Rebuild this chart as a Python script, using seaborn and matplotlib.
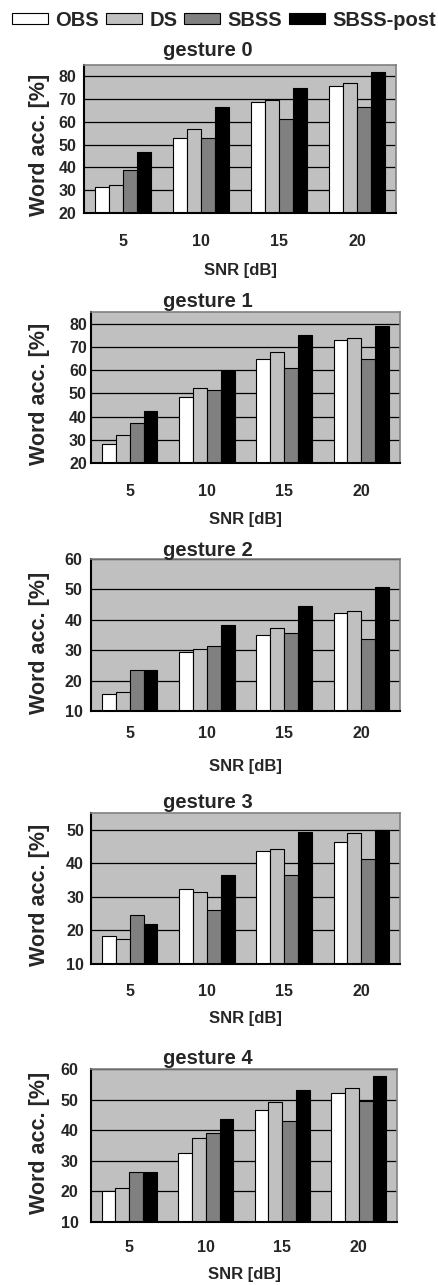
import numpy as np
import pandas as pd
import matplotlib
matplotlib.use("Agg")
import matplotlib.pyplot as plt
import seaborn as sns
from matplotlib.patches import Patch

# SNR categories and methods
snr = ["5", "10", "15", "20"]
methods = ["OBS", "DS", "SBSS", "SBSS-post"]

# word accuracy [%], per gesture
g0_obs = [31.3, 53.1, 68.7, 75.8]
g0_ds = [32.2, 57.1, 69.6, 77.1]
g0_sbss = [38.7, 53.1, 61.4, 66.5]
g0_post = [47.0, 66.7, 74.9, 82.1]

g1_obs = [28.2, 48.4, 64.7, 72.9]
g1_ds = [32.0, 52.5, 67.7, 73.8]
g1_sbss = [37.2, 51.4, 60.8, 64.7]
g1_post = [42.5, 59.7, 75.2, 79.0]

g2_obs = [15.5, 29.5, 34.9, 42.2]
g2_ds = [16.2, 30.4, 37.4, 42.9]
g2_sbss = [23.4, 31.3, 35.7, 33.6]
g2_post = [23.4, 38.3, 44.5, 50.8]

g3_obs = [18.2, 32.3, 43.6, 46.3]
g3_ds = [17.4, 31.6, 44.4, 49.1]
g3_sbss = [24.6, 26.0, 36.5, 41.4]
g3_post = [22.0, 36.6, 49.2, 50.0]

g4_obs = [20.1, 32.7, 46.7, 52.3]
g4_ds = [21.0, 37.5, 49.2, 53.8]
g4_sbss = [26.4, 39.0, 43.0, 49.5]
g4_post = [26.4, 43.7, 53.1, 57.7]

titles = ["gesture 0", "gesture 1", "gesture 2", "gesture 3", "gesture 4"]
series = [
    [g0_obs, g0_ds, g0_sbss, g0_post],
    [g1_obs, g1_ds, g1_sbss, g1_post],
    [g2_obs, g2_ds, g2_sbss, g2_post],
    [g3_obs, g3_ds, g3_sbss, g3_post],
    [g4_obs, g4_ds, g4_sbss, g4_post],
]
ylims = [(20, 85), (20, 85), (10, 60), (10, 55), (10, 60)]
ytop = [80, 80, 60, 50, 60]

palette = {"OBS": "white", "DS": "#c0c0c0", "SBSS": "#808080", "SBSS-post": "black"}

# layout in pixels: x0, x1, y0, y1, title y, xtick y, xlabel y, ytick pad, ylabel y frac
W, H = 438, 1285
boxes = [
    (84, 396, 65, 213, 51, 242, 270, 5.5, 0.46),
    (91, 400, 312, 463, 301, 491, 519, 3.0, 0.46),
    (91, 400, 559, 711, 550, 733, 766, 6.0, 0.45),
    (91, 400, 813, 964, 803, 992, 1019, 5.0, 0.46),
    (91, 397, 1069, 1222, 1058, 1247, 1275, 9.0, 0.52),
]

sns.set_style("white")
plt.rcParams["font.family"] = ["Liberation Sans", "DejaVu Sans"]
plt.rcParams["font.weight"] = "bold"

fig = plt.figure(figsize=(W / 100, H / 100), dpi=100)

for i in range(5):
    x0, x1, y0, y1, ty, xty, xly, ypad, ylf = boxes[i]
    ax = fig.add_axes([x0 / W, 1 - y1 / H, (x1 - x0) / W, (y1 - y0) / H])
    rows = []
    for m, vals in zip(methods, series[i]):
        for s, v in zip(snr, vals):
            rows.append({"snr": s, "method": m, "acc": v})
    df = pd.DataFrame(rows)
    ax.set_facecolor("#c0c0c0")
    ax.set_axisbelow(True)
    ax.yaxis.grid(True, color="black", linewidth=0.9)
    sns.barplot(data=df, x="snr", y="acc", hue="method", order=snr, hue_order=methods,
                palette=palette, width=0.72, gap=0, edgecolor="black", linewidth=0.8,
                errorbar=None, legend=False, ax=ax)
    ax.set_xlim(-0.5, 3.5)
    ax.set_ylim(*ylims[i])
    ax.set_yticks(np.arange(ylims[i][0], ytop[i] + 1, 10))
    ax.set_xticks([0.5, 1.5, 2.5], minor=True)
    h = y1 - y0
    w = x1 - x0
    ax.tick_params(axis="x", which="major", length=0, labelsize=11.5, pad=(xty - y1 - 7.5) * 0.72)
    ax.tick_params(axis="x", which="minor", direction="in", length=3.5, width=0.8, color="black")
    ax.tick_params(axis="y", length=0, labelsize=11.5, pad=ypad)
    for lab in ax.get_xticklabels() + ax.get_yticklabels():
        lab.set_fontweight("bold")
    ax.set_xlabel("SNR [dB]", fontsize=12, fontweight="bold", va="center")
    ax.xaxis.set_label_coords(0.5, -(xly - y1) / h)
    ax.set_ylabel("Word acc. [%]", fontsize=15.5, fontweight="bold", va="center")
    ax.yaxis.set_label_coords((40 - x0) / w, ylf)
    for side in ["left", "bottom"]:
        ax.spines[side].set_color("black")
        ax.spines[side].set_linewidth(1.5)
    for side in ["top", "right"]:
        ax.spines[side].set_color("#808080")
        ax.spines[side].set_linewidth(1.2)
    fig.text(208 / W, 1 - ty / H, titles[i], ha="center", va="center",
             fontsize=14.5, fontweight="bold")

handles = [Patch(facecolor=palette[m], edgecolor="black", linewidth=0.8, label=m) for m in methods]
fig.legend(handles=handles, loc="center", bbox_to_anchor=(224 / W, 1 - 20 / H), ncol=4,
           frameon=False, prop={"size": 14.5, "weight": "bold"}, handlelength=1.8,
           handleheight=0.5, handletextpad=0.35, columnspacing=0.35, borderaxespad=0)

fig.savefig("out.png", dpi=100)
